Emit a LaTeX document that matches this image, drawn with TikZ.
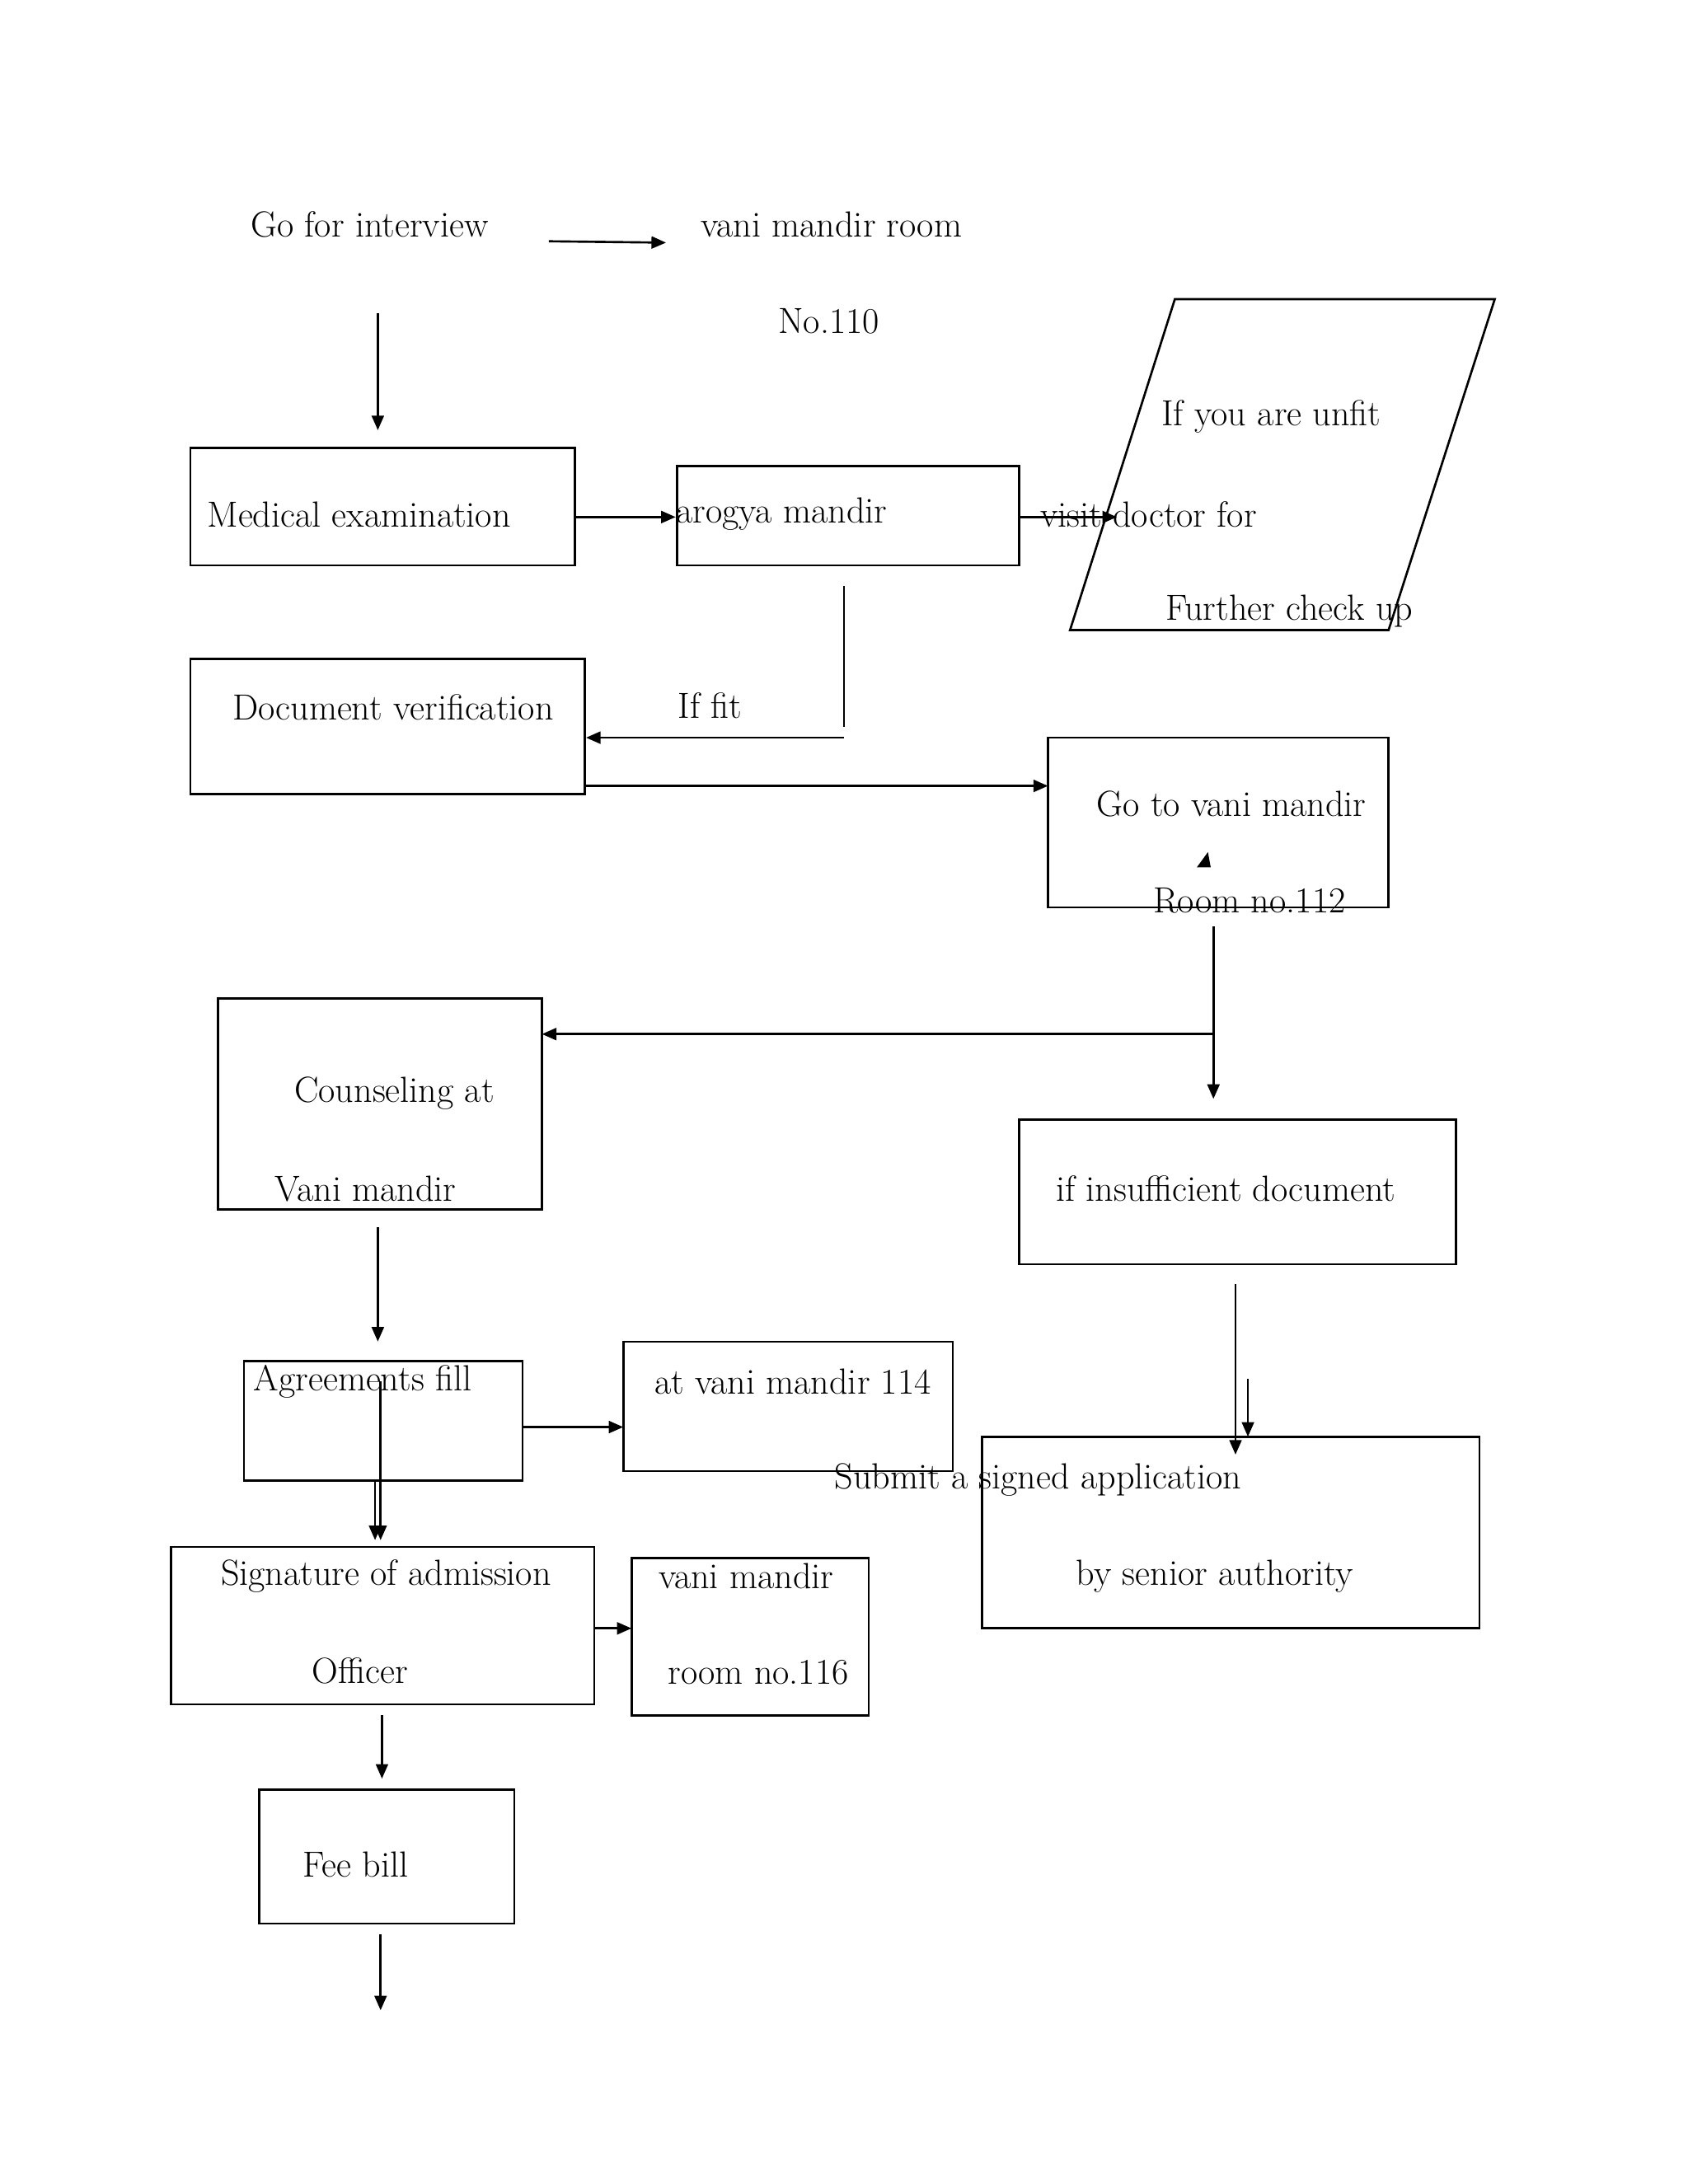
\documentclass[tikz,border=0pt]{standalone}
\usetikzlibrary{arrows.meta,shapes.geometric}
\begin{document}
\begin{tikzpicture}[x=0.02cm,y=-0.02cm,
  box/.style={draw,line width=0.9pt},
  t/.style={font=\fontsize{15}{18}\selectfont,inner sep=0pt},
  arr/.style={-{Triangle[length=6pt,width=5pt]},line width=0.9pt},
  ln/.style={line width=0.9pt}]
\useasboundingbox (0,0) rectangle (1224,1584);
% top
\node[t] (gfi) at (268,163) {Go for interview};
\coordinate (a1s) at (398,175); \coordinate (a1e) at (483,176);
\draw[arr] (a1s) -- (a1e);
\node[t] (vmr) at (603,163) {vani mandir room};
\node[t] (no110) at (601,233) {No.110};
\coordinate (a2s) at (274,227); \coordinate (a2e) at (274,312);
\draw[arr] (a2s) -- (a2e);
% medical
\draw[box] (138,325) rectangle (417,410);
\coordinate (med) at (417,375);
\node[t,anchor=west] (medt) at (150,373) {Medical examination};
\draw[box] (491,338) rectangle (739,410);
\node[t,anchor=west] (aro) at (490,373) {arogya mandir};
\coordinate (aroL) at (490,375);
\draw[arr] (med) -- (aroL);
\coordinate (aroR) at (739,375); \coordinate (aroE) at (810,375);
\draw[arr] (aroR) -- (aroE);
% parallelogram
\draw[box] (852,217) -- (1084,217) -- (1007,457) -- (776,457) -- cycle;
\node[t] (p1) at (922,302) {If you are unfit};
\node[t,anchor=west] (p2) at (754,373) {visit doctor for};
\node[t] (p3) at (935,443) {Further check up};
% if fit
\coordinate (f1) at (612,425); \coordinate (f2) at (612,535); \coordinate (f3) at (425,535);
\draw[ln] (f1) -- (612,527);
\draw[arr] (f2) -- (f3);
\node[t] (iffit) at (515,512) {If fit};
\draw[box] (138,478) rectangle (424,576);
\node[t] (doc) at (285,513) {Document verification};
\coordinate (d1) at (425,570); \coordinate (d2) at (760,570);
\draw[arr] (d1) -- (d2);
\draw[box] (760,535) rectangle (1007,658);
\node[t] (gtv) at (893,583) {Go to vani mandir};
\node[t] (r112) at (906,653) {Room no.112};
\fill (868,629) -- (878,629) -- (876,618) -- cycle;
% split
\coordinate (s1) at (880,672); \coordinate (s2) at (880,797); \coordinate (s3) at (880,750); \coordinate (s4) at (393,750);
\draw[arr] (s1) -- (s2);
\draw[arr] (s3) -- (s4);
\draw[box] (158,724) rectangle (393,877);
\node[t] (c1) at (286,793) {Counseling at};
\node[t] (c2) at (265,862) {Vani mandir};
\coordinate (c3) at (274,890); \coordinate (c4) at (274,973);
\draw[arr] (c3) -- (c4);
\draw[box] (739,812) rectangle (1056,917);
\node[t] (ins) at (889,862) {if insufficient document};
\coordinate (i1) at (896,931); \coordinate (i2) at (896,1055);
\draw[arr] (i1) -- (i2);
\coordinate (i3) at (905,1000); \coordinate (i4) at (905,1042);
\draw[arr] (i3) -- (i4);
% agreements
\draw[box] (177,987) rectangle (379,1074);
\node[t] (agr) at (263,1002) {Agreements fill};
\coordinate (g1) at (379,1035); \coordinate (g2) at (452,1035);
\draw[arr] (g1) -- (g2);
\draw[box] (452,973) rectangle (691,1067);
\node[t] (v114) at (575,1002) {at vani mandir 114};
\draw[box] (712,1042) rectangle (1073,1181);
\node[t,anchor=west] (sub) at (605,1073) {Submit a signed application};
\node[t] (sen) at (881,1143) {by senior authority};
\coordinate (h1) at (276,1002); \coordinate (h2) at (276,1117);
\draw[arr] (h1) -- (h2);
\coordinate (h3) at (272,1075); \coordinate (h4) at (272,1117);
\draw[arr] (h3) -- (h4);
% signature
\draw[box] (124,1122) rectangle (431,1236);
\node[t] (sig) at (280,1143) {Signature of admission};
\node[t] (off) at (261,1212) {Officer};
\coordinate (k1) at (431,1181); \coordinate (k2) at (458,1181);
\draw[arr] (k1) -- (k2);
\draw[box] (458,1130) rectangle (630,1244);
\node[t] (v116a) at (541,1143) {vani mandir};
\node[t] (v116b) at (550,1213) {room no.116};
\coordinate (m1) at (277,1244); \coordinate (m2) at (277,1290);
\draw[arr] (m1) -- (m2);
\draw[box] (188,1298) rectangle (373,1395);
\node[t] (fee) at (258,1352) {Fee bill};
\coordinate (n1) at (276,1403); \coordinate (n2) at (276,1458);
\draw[arr] (n1) -- (n2);
\end{tikzpicture}
\end{document}
